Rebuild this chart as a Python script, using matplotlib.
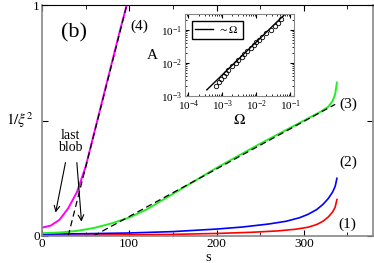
import numpy as np
import matplotlib
matplotlib.use("Agg")
import matplotlib.pyplot as plt
from matplotlib.ticker import MultipleLocator, LogLocator, NullFormatter

plt.rcParams['font.family'] = ['Liberation Serif', 'DejaVu Serif']
plt.rcParams['mathtext.fontset'] = 'stix'

# curve (1) red
s1 = [0, 100, 150, 200, 240, 270, 290, 305, 315, 322, 328, 333, 336, 338]
y1 = [0.003, 0.005, 0.007, 0.011, 0.016, 0.022, 0.029, 0.038, 0.05, 0.064, 0.082, 0.104, 0.125, 0.158]
# curve (2) blue
s2 = [0, 50, 100, 150, 200, 230, 260, 280, 295, 305, 315, 322, 328, 333, 336, 338]
y2 = [0.008, 0.01, 0.013, 0.019, 0.03, 0.039, 0.052, 0.064, 0.079, 0.094, 0.115, 0.137, 0.162, 0.19, 0.215, 0.25]
# curve (3) green
s3 = [0, 20, 40, 60, 80, 100, 120, 140, 160, 200, 250, 300, 320, 328, 333, 336, 338]
y3 = [0.012, 0.015, 0.022, 0.035, 0.055, 0.08, 0.115, 0.16, 0.205, 0.295, 0.4, 0.5, 0.54, 0.56, 0.585, 0.615, 0.665]
# curve (4) magenta
s4 = [0, 10, 20, 30, 40, 50, 60, 70, 80, 90, 97]
y4 = [0.036, 0.045, 0.07, 0.12, 0.19, 0.3, 0.45, 0.6, 0.75, 0.9, 1.0]

# dashed fits: (start s, end s, slope, intercept s0)
fit4 = (30, 100, 0.0149, 30)
fit3 = (59, 336, 0.00206, 59)

# inset data
omega = [6.5e-4, 8e-4, 9e-4, 1.1e-3, 1.3e-3, 1.5e-3, 2e-3, 2.5e-3, 3e-3, 3.7e-3, 4.5e-3,
         5.5e-3, 7e-3, 8.5e-3, 1e-2, 1.2e-2, 1.5e-2, 2e-2, 2.8e-2, 3.5e-2, 4.5e-2, 5.5e-2]
amp = [2.0e-3, 2.6e-3, 3.2e-3, 4e-3, 5e-3, 6e-3, 8e-3, 1.0e-2, 1.25e-2, 1.5e-2, 1.9e-2,
       2.3e-2, 2.9e-2, 3.5e-2, 4.2e-2, 5e-2, 6e-2, 8e-2, 1e-1, 1.3e-1, 1.6e-1, 2.2e-1]
fit_coef = 4.3
fit_omega = [3.5e-4, 0.08]

fig = plt.figure(figsize=(3.74, 2.63), dpi=100)
ax = fig.add_axes([0.1123, 0.1027, 0.8842, 0.8771])

ax.plot(s1, y1, color='#ff0000', lw=1.2)
ax.plot(s2, y2, color='#0000ff', lw=1.2)
ax.plot(s3, y3, color='#22ee22', lw=1.4)
ax.plot(s4, y4, color='#ff00ff', lw=1.4)
for a, b, k, s0 in (fit4, fit3):
    xs = np.array([a, b])
    ax.plot(xs, k * (xs - s0), color='black', lw=0.9, ls=(0, (5, 3)))

ax.set_xlim(0, 379)
ax.set_ylim(0, 1)
ax.set_xticks([0, 100, 200, 300])
ax.xaxis.set_minor_locator(MultipleLocator(50))
ax.set_yticks([0, 0.5, 1])
ax.set_yticklabels(['0', '', '1'])
ax.tick_params(which='both', direction='in', top=True, right=True, labelsize=9.5, pad=1.5)
ax.tick_params(which='major', length=4)
ax.tick_params(which='minor', length=3)
for side in ['left', 'bottom', 'right']:
    ax.spines[side].set_color('#888888')
    ax.spines[side].set_linewidth(1.2)

ax.text(-0.11, 0.5, r'$1/\xi^2$', transform=ax.transAxes, fontsize=11, ha='left', va='center')
fig.text(0.556, 0.022, 's', fontsize=10.5, ha='center', va='center')

ax.text(36.7, 0.88, '(b)', fontsize=16, ha='center', va='center')
ax.text(112, 0.91, '(4)', fontsize=11, ha='center', va='center')
ax.text(351, 0.57, '(3)', fontsize=11, ha='center', va='center')
ax.text(351, 0.32, '(2)', fontsize=11, ha='center', va='center')
ax.text(350, 0.05, '(1)', fontsize=11, ha='center', va='center')

ax.text(33, 0.41, 'last\nblob', fontsize=10, ha='center', va='center', linespacing=0.95)
ax.annotate('', xy=(15, 0.09), xytext=(27.5, 0.33),
            arrowprops=dict(arrowstyle='->', color='black', lw=0.8))
ax.annotate('', xy=(45.5, 0.05), xytext=(39.7, 0.33),
            arrowprops=dict(arrowstyle='->', color='black', lw=0.8))

# inset
ins = fig.add_axes([0.4947, 0.6361, 0.2914, 0.3095])
ins.set_xscale('log')
ins.set_yscale('log')
ins.plot(omega, amp, 'o', mfc='none', mec='black', ms=3.2, mew=0.6)
fo = np.array(fit_omega)
ins.plot(fo, fit_coef * fo, color='black', lw=1.0, label=r'$\sim\Omega$')
ins.set_xlim(8e-5, 0.13)
ins.set_ylim(1e-3, 0.3)
ins.xaxis.set_minor_locator(LogLocator(base=10, subs=np.arange(2, 10), numticks=10))
ins.xaxis.set_minor_formatter(NullFormatter())
ins.yaxis.set_minor_locator(LogLocator(base=10, subs=np.arange(2, 10), numticks=10))
ins.yaxis.set_minor_formatter(NullFormatter())
ins.set_xticks([1e-4, 1e-3, 1e-2, 1e-1])
ins.set_yticks([1e-3, 1e-2, 1e-1])
ins.tick_params(which='both', direction='in', top=True, right=True, labelsize=8, pad=2)
ins.tick_params(which='major', length=3)
ins.tick_params(which='minor', length=1.5)
for side in ins.spines:
    ins.spines[side].set_color('#888888')
ins.set_xlabel(r'$\Omega$', fontsize=11, labelpad=0)
ins.set_ylabel('A', fontsize=11, rotation=0, labelpad=6, va='center')
ins.legend(loc='upper left', fontsize=8, handlelength=1.6, frameon=True, fancybox=False,
           edgecolor='black', borderpad=0.3, handletextpad=0.5, borderaxespad=0.6,
           framealpha=1)

fig.savefig('out.png', dpi=100)
